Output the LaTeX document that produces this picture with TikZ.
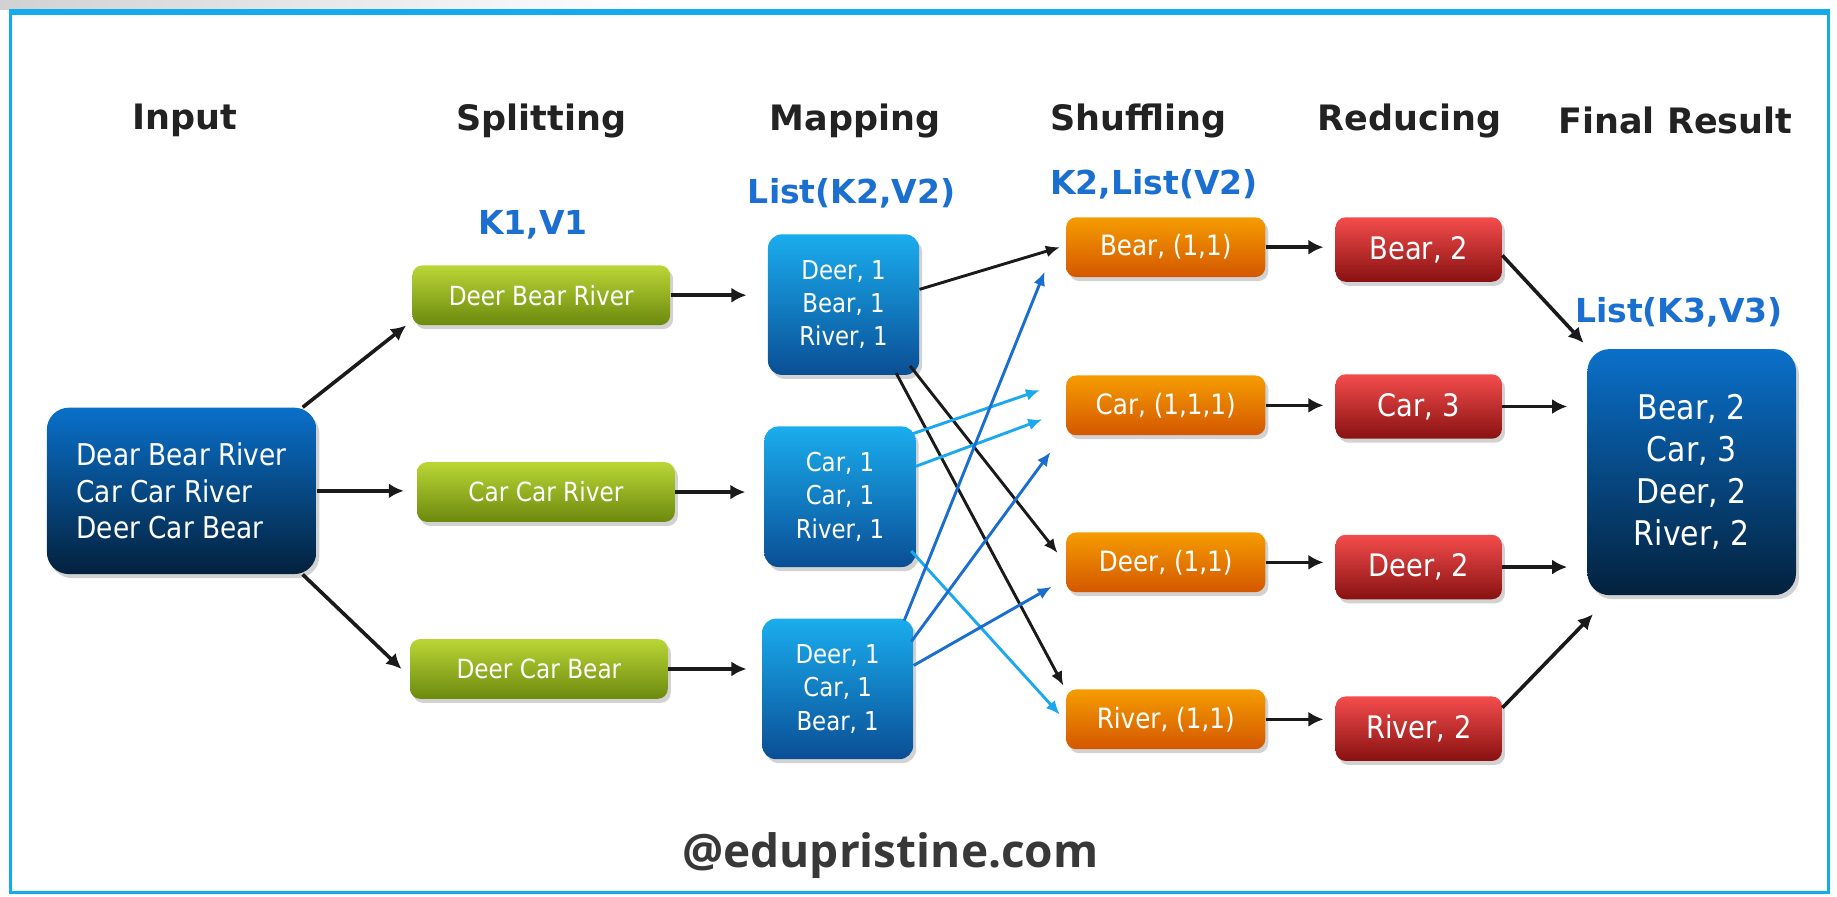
\documentclass[tikz,border=0pt]{standalone}
\usepackage{fontspec}
\setmainfont{DejaVu Sans}
\newfontfamily\cond[FakeStretch=0.88]{DejaVu Sans}
\newfontfamily\wmfont{Open Sans}
\usetikzlibrary{arrows.meta,shadows}
\def\upx{0.5858pt}
\definecolor{framecol}{HTML}{12ACEE}
\definecolor{lblblue}{HTML}{1B6FD1}
\definecolor{hdrcol}{HTML}{222222}
\definecolor{grnT}{HTML}{BAD636}
\definecolor{grnB}{HTML}{6C890E}
\definecolor{mapT}{HTML}{1AADEE}
\definecolor{mapB}{HTML}{0A4E95}
\definecolor{dkT}{HTML}{0A70CA}
\definecolor{dkB}{HTML}{03213D}
\definecolor{orT}{HTML}{F59C00}
\definecolor{orB}{HTML}{D45700}
\definecolor{rdT}{HTML}{F44C4C}
\definecolor{rdB}{HTML}{881111}
\definecolor{arrblk}{HTML}{1A1A1A}
\definecolor{arrlt}{HTML}{1CA8EE}
\definecolor{arrbl}{HTML}{1A6ED0}
\tikzset{
  hdr/.style={font=\bfseries\fontsize{17.5}{20}\selectfont, text=hdrcol, inner sep=0pt},
  lbl/.style={font=\bfseries\fontsize{16.5}{19}\selectfont, text=lblblue, inner sep=0pt},
  boxbase/.style={rounded corners=5pt, inner sep=0pt, text=white, align=center,
    drop shadow={opacity=0.35, shadow xshift=1.5pt, shadow yshift=-2pt}},
  greenbox/.style={boxbase, top color=grnT, bottom color=grnB,
    minimum width=220*\upx, minimum height=51*\upx, font=\cond\fontsize{13.2}{15}\selectfont},
  mapbox/.style={boxbase, rounded corners=7pt, top color=mapT, bottom color=mapB,
    minimum width=129*\upx, minimum height=120*\upx, font=\cond\fontsize{13}{16.7}\selectfont},
  shufbox/.style={boxbase, top color=orT, bottom color=orB,
    minimum width=170*\upx, minimum height=51*\upx, font=\cond\fontsize{14}{16}\selectfont},
  redbox/.style={boxbase, top color=rdT, bottom color=rdB,
    minimum width=142*\upx, minimum height=55*\upx, font=\cond\fontsize{15.5}{18}\selectfont},
  bigbox/.style={boxbase, rounded corners=11pt, top color=dkT, bottom color=dkB},
  arr/.style={draw=arrblk, line width=1.8pt, -{Latex[length=7.5pt,width=7.5pt]}},
  thin/.style={line width=1.45pt, -{Latex[length=7pt,width=6pt]}},
}
\begin{document}
\begin{tikzpicture}[x=\upx, y=-\upx]
\useasboundingbox (0,0) rectangle (1568,765);
\fill[white] (0,0) rectangle (1568,765);
\shade[left color=black!18, right color=white] (0,0) rectangle (560,8);
% frame
\draw[framecol, line width=1.6pt] (9,11) rectangle (1561,762);
\draw[framecol, line width=3pt] (8,10) -- (1562,10);

% headers
\node[hdr] (hin)  at (158,103) {Input};
\node[hdr] (hsp)  at (462,103) {Splitting};
\node[hdr] (hmap) at (730,103) {Mapping};
\node[hdr] (hsh)  at (972,103) {Shuffling};
\node[hdr] (hred) at (1203,103) {Reducing};
\node[hdr] (hfin) at (1430,103) {Final Result};

% type labels
\node[lbl] (l1) at (455,192) {K1,V1};
\node[lbl] (l2) at (727,165) {List(K2,V2)};
\node[lbl] (l3) at (985,157) {K2,List(V2)};
\node[lbl] (l4) at (1433,267) {List(K3,V3)};

% input
\node[bigbox, minimum width=230*\upx, minimum height=142*\upx, align=left,
  font=\cond\fontsize{15}{18.2}\selectfont] (in) at (155,419)
  {Dear Bear River\\Car Car River\\Deer Car Bear};

% splitting
\node[greenbox] (s1) at (462,252) {Deer Bear River};
\node[greenbox] (s2) at (466,420) {Car Car River};
\node[greenbox] (s3) at (460,571) {Deer Car Bear};

% mapping
\node[mapbox] (m1) at (720,260) {Deer, 1\\Bear, 1\\River, 1};
\node[mapbox] (m2) at (717,424) {Car, 1\\Car, 1\\River, 1};
\node[mapbox] (m3) at (715,588) {Deer, 1\\Car, 1\\Bear, 1};

% shuffling
\node[shufbox] (sh1) at (995,211) {Bear, (1,1)};
\node[shufbox] (sh2) at (995,346) {Car, (1,1,1)};
\node[shufbox] (sh3) at (995,480) {Deer, (1,1)};
\node[shufbox] (sh4) at (995,614) {River, (1,1)};

% reducing
\node[redbox] (r1) at (1211,213) {Bear, 2};
\node[redbox] (r2) at (1211,347) {Car, 3};
\node[redbox] (r3) at (1211,484) {Deer, 2};
\node[redbox] (r4) at (1211,622) {River, 2};

% final
\node[bigbox, minimum width=178*\upx, minimum height=210*\upx,
  font=\cond\fontsize{17}{21}\selectfont] (fin) at (1444,403)
  {Bear, 2\\Car, 3\\Deer, 2\\River, 2};

% watermark
\node[font=\wmfont\bfseries\fontsize{23}{27}\selectfont, text=black!78, inner sep=0pt] (wm) at (760,730) {@edupristine.com};

% input -> splitting
\draw[arr] ([xshift=-12*\upx]in.north east) -- ([xshift=-5*\upx]s1.south west);
\draw[arr, shorten >=11*\upx] (in.east) -- (in.east -| s2.west);
\draw[arr] ([xshift=-12*\upx]in.south east) -- ([xshift=-7*\upx]s3.west);

% splitting -> mapping
\draw[arr, shorten >=18*\upx] (s1.east) -- (s1.east -| m1.west);
\draw[arr, shorten >=16*\upx] (s2.east) -- (s2.east -| m2.west);
\draw[arr, shorten >=13*\upx] (s3.east) -- (s3.east -| m3.west);

% mapping -> shuffling
\draw[thin, draw=arrblk] ([yshift=13*\upx]m1.east) -- ([xshift=-5*\upx]sh1.west);
\draw[thin, draw=arrblk] ([xshift=-8*\upx,yshift=8*\upx]m1.south east) -- ([xshift=-7*\upx,yshift=8*\upx]sh3.west);
\draw[thin, draw=arrblk] ([xshift=-20*\upx,yshift=2*\upx]m1.south east) -- ([xshift=-2*\upx,yshift=3*\upx]sh4.north west);

\draw[thin, draw=arrlt] ([xshift=-7*\upx,yshift=-8*\upx]m2.north east) -- ([xshift=-22*\upx,yshift=13*\upx]sh2.west);
\draw[thin, draw=arrlt] ([yshift=26*\upx]m2.east) -- ([xshift=-20*\upx,yshift=-12*\upx]sh2.west);
\draw[thin, draw=arrlt] ([xshift=-4*\upx,yshift=14*\upx]m2.south east) -- ([xshift=-5*\upx,yshift=4*\upx]sh4.west);

\draw[thin, draw=arrbl] ([xshift=-8*\upx,yshift=-2*\upx]m3.north east) -- ([xshift=-18*\upx,yshift=5*\upx]sh1.south west);
\draw[thin, draw=arrbl] ([xshift=-2*\upx,yshift=-20*\upx]m3.north east) -- ([xshift=-13*\upx,yshift=-14*\upx]sh2.south west);
\draw[thin, draw=arrbl] ([yshift=20*\upx]m3.east) -- ([xshift=-12*\upx,yshift=5*\upx]sh3.south west);

% shuffling -> reducing
\draw[arr, shorten >=10*\upx] (sh1.east) -- (sh1.east -| r1.west);
\draw[arr, shorten >=10*\upx] (sh2.east) -- (sh2.east -| r2.west);
\draw[arr, shorten >=10*\upx] (sh3.east) -- (sh3.east -| r3.west);
\draw[arr, shorten >=10*\upx] (sh4.east) -- (sh4.east -| r4.west);

% reducing -> final
\draw[arr] ([yshift=-5*\upx]r1.east) -- ([xshift=-3*\upx,yshift=5*\upx]fin.north west);
\draw[arr, shorten >=17*\upx] (r2.east) -- (r2.east -| fin.west);
\draw[arr, shorten >=17*\upx] (r3.east) -- (r3.east -| fin.west);
\draw[arr] ([yshift=-10*\upx]r4.north east) -- ([xshift=5*\upx,yshift=-16*\upx]fin.south west);
\end{tikzpicture}
\end{document}
